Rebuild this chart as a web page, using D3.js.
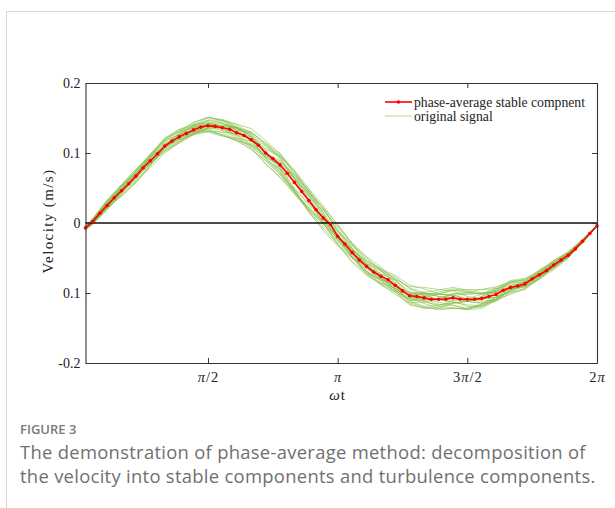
<!DOCTYPE html>
<html>
<head>
<meta charset="utf-8">
<script src="https://cdn.jsdelivr.net/npm/d3@7"></script>
<style>
body { margin: 0; background: #fff; }
svg { display: block; }
</style>
</head>
<body>
<div id="chart"></div>
<script>
// phase angle (deg) of each averaged point
const avgDeg = d3.range(5, 361, 5);
// phase-average stable component (m/s), one value per 5 deg
const avgVel = [
  -0.007, 0.002, 0.014, 0.025, 0.036, 0.046, 0.056, 0.067, 0.079, 0.089, 0.099, 0.110,
  0.117, 0.123, 0.128, 0.133, 0.137, 0.139, 0.138, 0.136, 0.134, 0.129, 0.125, 0.119,
  0.111, 0.100, 0.092, 0.083, 0.071, 0.058, 0.045, 0.032, 0.019, 0.007, -0.002, -0.019,
  -0.030, -0.042, -0.053, -0.062, -0.070, -0.076, -0.081, -0.089, -0.097, -0.104, -0.105, -0.107,
  -0.109, -0.109, -0.109, -0.107, -0.109, -0.109, -0.109, -0.108, -0.105, -0.102, -0.096, -0.092,
  -0.090, -0.087, -0.080, -0.074, -0.068, -0.060, -0.053, -0.046, -0.037, -0.026, -0.015, -0.004
];
// original signal: deviation from the average (x 0.001 m/s) at these phases
const rawDeg = [5, 10, 20, 30, 40, 50, 60, 70, 80, 90, 100, 110, 120, 130, 140, 150, 160, 170, 180,
  190, 200, 210, 220, 230, 240, 250, 260, 270, 280, 290, 300, 310, 320, 330, 340, 350, 360];
const rawDev = [
  [0,3,6,7,4,1,-3,-6,-4,0,4,8,11,13,10,7,3,-1,-6,-8,-7,-4,0,3,6,7,4,1,-1,-4,-6,-3,0,3,4,3,1],
  [-2,-4,-6,-4,0,6,10,11,8,4,0,-4,-8,-11,-14,-15,-13,-8,-4,0,4,7,10,11,8,4,0,-3,-6,-7,-4,-1,1,4,3,1,0],
  [1,4,8,9,10,6,0,-4,-7,-8,-6,-1,4,10,15,18,17,13,7,3,-1,-6,-10,-13,-14,-11,-7,-3,1,6,8,7,4,1,-1,-3,-1],
  [-1,-3,0,4,8,10,8,3,-3,-8,-11,-11,-7,-1,6,11,14,13,8,6,1,-3,-7,-6,-3,1,6,10,13,11,7,3,-1,-4,-3,-1,0],
  [2,1,-1,-6,-8,-7,-3,3,7,11,12,12,8,3,-3,-10,-15,-18,-14,-8,-3,3,8,13,15,14,10,4,0,-4,-7,-8,-6,-3,0,1,1],
  [0,-1,-4,-8,-10,-7,-3,1,4,3,-1,-6,-11,-16,-18,-17,-14,-8,-3,3,7,10,8,4,-1,-7,-11,-14,-11,-7,-3,1,4,6,4,1,0],
  [-1,0,3,1,-1,-4,-7,-6,-1,4,10,12,16,18,15,11,6,0,-4,-7,-10,-11,-8,-4,1,7,11,14,13,8,4,0,-3,-4,-3,0,0],
  [1,4,6,8,10,8,4,0,-3,-6,-10,-12,-14,-11,-6,0,6,11,14,14,13,8,3,-3,-8,-13,-15,-14,-10,-6,-1,3,6,4,1,0,0],
  [-2,-4,-3,0,3,6,7,8,11,12,10,6,0,-6,-10,-13,-11,-7,-1,4,8,11,14,15,13,8,3,-3,-7,-10,-8,-6,-3,0,1,0,0],
  [0,1,0,-3,-6,-10,-10,-8,-4,1,6,8,6,1,-4,-8,-6,0,6,10,11,8,4,-1,-6,-8,-7,-3,3,7,10,8,6,3,0,-1,0],
  [1,3,4,3,0,-1,1,6,10,12,11,7,3,0,4,10,16,18,16,11,4,-1,-6,-10,-13,-15,-15,-13,-8,-4,0,3,1,-1,-3,-1,0],
  [-1,-3,-6,-4,-1,3,6,4,0,-4,-7,-10,-13,-15,-17,-14,-10,-4,1,6,3,-1,-4,-7,-3,1,6,8,7,4,1,-3,-6,-7,-4,-1,0],
  [2,4,7,8,7,3,-1,-4,-6,-3,1,6,8,11,8,4,-1,-7,-12,-14,-13,-10,-4,1,6,8,11,10,7,3,-1,-4,-6,-3,0,1,0],
  [-2,-1,1,6,7,4,0,-3,-1,3,7,4,-1,-7,-11,-14,-17,-15,-11,-6,0,4,7,6,3,-1,-6,-8,-10,-7,-3,1,4,7,5,3,1],
  [0,-3,-4,-1,3,7,10,7,3,-1,-4,-3,1,7,13,15,13,7,1,-4,-8,-11,-13,-10,-6,0,4,7,8,6,3,0,-1,0,1,0,0],
  [1,0,-3,-7,-8,-6,-1,3,6,8,7,3,-3,-8,-13,-10,-4,3,8,12,14,13,7,1,-4,-10,-14,-15,-14,-8,-4,-1,1,3,1,0,0],
  [-1,1,4,6,3,-1,-6,-8,-7,-4,0,4,10,14,17,14,10,4,-1,-6,-8,-6,-1,4,8,13,15,13,8,4,0,-3,-4,-1,1,1,0],
  [0,3,1,-1,-4,-3,1,4,7,6,1,-3,-6,-4,0,6,8,4,-1,-7,-11,-13,-10,-6,0,-4,-10,-13,-8,-4,0,4,7,6,3,0,0],
  [2,3,3,0,-3,-4,-1,1,-1,-6,-10,-11,-8,-3,3,7,11,14,11,7,1,-3,-6,-3,3,7,4,0,-4,-7,-10,-7,-3,0,1,1,0],
  [-2,-3,-1,3,6,8,10,8,4,0,3,7,11,14,11,6,0,-6,-10,-13,-10,-4,0,4,7,4,0,-3,0,4,7,6,3,0,-1,-1,0],
  [1,2,5,3,-2,-5,-8,-9,-6,-2,3,7,5,0,-6,-12,-15,-12,-7,-2,4,9,12,10,5,0,-5,-10,-12,-9,-5,-2,2,4,2,1,0],
  [-1,-2,-2,1,5,9,12,10,6,2,-3,-8,-10,-6,0,5,9,15,17,13,8,2,-3,-8,-12,-9,-4,1,6,10,9,5,1,-2,-4,-2,0],
  [0,2,3,6,2,-3,-5,-2,3,8,11,9,4,-2,-8,-13,-11,-5,0,4,-1,-6,-9,-12,-15,-13,-8,-3,3,8,6,2,-2,-5,-3,-1,0],
  [1,-1,-3,-2,1,4,3,-1,-5,-9,-12,-8,-2,5,12,16,13,8,3,-2,-6,-9,-5,0,5,10,13,11,6,2,-2,-5,-6,-3,-1,0,1]
];
const xTicks = [90, 180, 270, 360];
const xTickLabels = [["π", "/2"], ["π"], ["3", "π", "/2"], ["2", "π"]];
const yTicks = [0.2, 0.1, 0, -0.1, -0.2];
const yTickLabels = ["0.2", "0.1", "0", "0.1", "-0.2"];
const legendLabels = ["phase-average stable compnent", "original signal"];

const W = 615, H = 508;
const margin = {top: 83, right: 18, bottom: 145, left: 85.5};
const width = W - margin.left - margin.right;
const height = H - margin.top - margin.bottom;
const serif = "'Liberation Serif', 'DejaVu Serif', serif";

const svg = d3.select("#chart").append("svg")
  .attr("width", W)
  .attr("height", H);

// card outline
svg.append("rect")
  .attr("x", 6.5).attr("y", 11.5)
  .attr("width", 700).attr("height", 600)
  .attr("fill", "none").attr("stroke", "#d6d6d6");

const g = svg.append("g")
  .attr("transform", "translate(" + margin.left + "," + margin.top + ")");

const x = d3.scaleLinear().domain([5, 360]).range([0, width]);
const y = d3.scaleLinear().domain([-0.2, 0.2]).range([height, 0]);

g.append("clipPath").attr("id", "clip")
  .append("rect").attr("width", width).attr("height", height);

// avg lookup by degree
const avgAt = new Map(avgDeg.map((d, i) => [d, avgVel[i]]));

const rawLine = d3.line()
  .x(d => x(d[0]))
  .y(d => y(d[1]));

const plot = g.append("g").attr("clip-path", "url(#clip)");

plot.selectAll(".raw")
  .data(rawDev)
  .join("path")
  .attr("class", "raw")
  .attr("fill", "none")
  .attr("stroke", "#82bc45")
  .attr("stroke-opacity", 0.7)
  .attr("stroke-width", 0.8)
  .attr("d", dev => rawLine(rawDeg.map((dg, i) => [dg, avgAt.get(dg) + dev[i] / 1000])));

// zero line
g.append("line")
  .attr("x1", 0).attr("x2", width)
  .attr("y1", y(0)).attr("y2", y(0))
  .attr("stroke", "#111").attr("stroke-width", 1.3);

const avgLine = d3.line()
  .x((d, i) => x(avgDeg[i]))
  .y(d => y(d));

plot.append("path")
  .datum(avgVel)
  .attr("fill", "none")
  .attr("stroke", "#ff0000")
  .attr("stroke-width", 1.6)
  .attr("d", avgLine);

g.selectAll(".mk")
  .data(avgVel)
  .join("circle")
  .attr("class", "mk")
  .attr("cx", (d, i) => x(avgDeg[i]))
  .attr("cy", d => y(d))
  .attr("r", 1.8)
  .attr("fill", "#ff0000");

// axes box
function styleAxis(sel) {
  sel.select(".domain").attr("stroke", "#333").attr("stroke-width", 1.1);
  sel.selectAll(".tick line").attr("stroke", "#333").attr("stroke-width", 1);
  sel.selectAll("text").attr("fill", "#222").style("font-family", serif).style("font-size", "14px");
}

const xAxis = g.append("g")
  .attr("transform", "translate(0," + height + ")")
  .call(d3.axisBottom(x).tickValues(xTicks).tickSizeInner(-5).tickSizeOuter(0).tickFormat(""))
  .call(styleAxis);

xAxis.selectAll(".tick").append("text")
  .attr("y", 19)
  .attr("text-anchor", "middle")
  .attr("fill", "#222")
  .style("font-family", serif)
  .style("font-size", "14.5px")
  .style("letter-spacing", "1px")
  .each(function(d, i) {
    const t = d3.select(this);
    xTickLabels[i].forEach(part => {
      t.append("tspan").style("font-style", part === "π" ? "italic" : "normal").text(part);
    });
  });

g.append("g")
  .call(d3.axisTop(x).tickValues(xTicks).tickSizeInner(-5).tickSizeOuter(0).tickFormat(""))
  .call(styleAxis);

g.append("g")
  .call(d3.axisLeft(y).tickValues(yTicks).tickSizeInner(-5).tickSizeOuter(0).tickPadding(5)
    .tickFormat((d, i) => yTickLabels[i]))
  .call(styleAxis);

g.append("g")
  .attr("transform", "translate(" + width + ",0)")
  .call(d3.axisRight(y).tickValues(yTicks).tickSizeInner(-5).tickSizeOuter(0).tickFormat(""))
  .call(styleAxis);

// axis titles
const xt = g.append("text")
  .attr("x", x(180)).attr("y", height + 37)
  .attr("text-anchor", "middle")
  .attr("fill", "#222")
  .style("font-family", serif).style("font-size", "15px")
  .style("letter-spacing", "1px");
xt.append("tspan").style("font-style", "italic").text("ω");
xt.append("tspan").text("t");

g.append("text")
  .attr("transform", "translate(" + (-33) + "," + (height / 2 - 2) + ") rotate(-90)")
  .attr("text-anchor", "middle")
  .attr("fill", "#222")
  .style("font-family", serif).style("font-size", "15px")
  .style("letter-spacing", "1.4px")
  .text("Velocity (m/s)");

// legend
const lg = g.append("g").attr("transform", "translate(" + (385 - margin.left) + "," + (102 - margin.top) + ")");
lg.append("line").attr("x1", 0).attr("x2", 27).attr("y1", 0).attr("y2", 0)
  .attr("stroke", "#ff0000").attr("stroke-width", 1.6);
lg.append("circle").attr("cx", 13.5).attr("cy", 0).attr("r", 1.8).attr("fill", "#ff0000");
lg.append("line").attr("x1", 0).attr("x2", 27).attr("y1", 14).attr("y2", 14)
  .attr("stroke", "#b9d79c").attr("stroke-width", 1);
lg.selectAll(".lt")
  .data(legendLabels)
  .join("text")
  .attr("class", "lt")
  .attr("x", 29)
  .attr("y", (d, i) => i * 14 + 4.5)
  .attr("fill", "#222")
  .style("font-family", serif).style("font-size", "13.7px")
  .text(d => d);

// caption
svg.append("text")
  .attr("x", 20).attr("y", 434)
  .attr("fill", "#7a7a7a")
  .style("font-family", "'Open Sans', sans-serif")
  .style("font-size", "13px")
  .style("font-weight", 600)
  .text("FIGURE 3");

const captionLines = [
  "The demonstration of phase-average method: decomposition of",
  "the velocity into stable components and turbulence components."
];
svg.selectAll(".cap")
  .data(captionLines)
  .join("text")
  .attr("class", "cap")
  .attr("x", 20)
  .attr("y", (d, i) => 458.8 + i * 24)
  .attr("fill", "#707070")
  .style("font-family", "'Open Sans', sans-serif")
  .style("font-size", "18.4px")
  .style("letter-spacing", "0.3px")
  .text(d => d);
</script>
</body>
</html>
